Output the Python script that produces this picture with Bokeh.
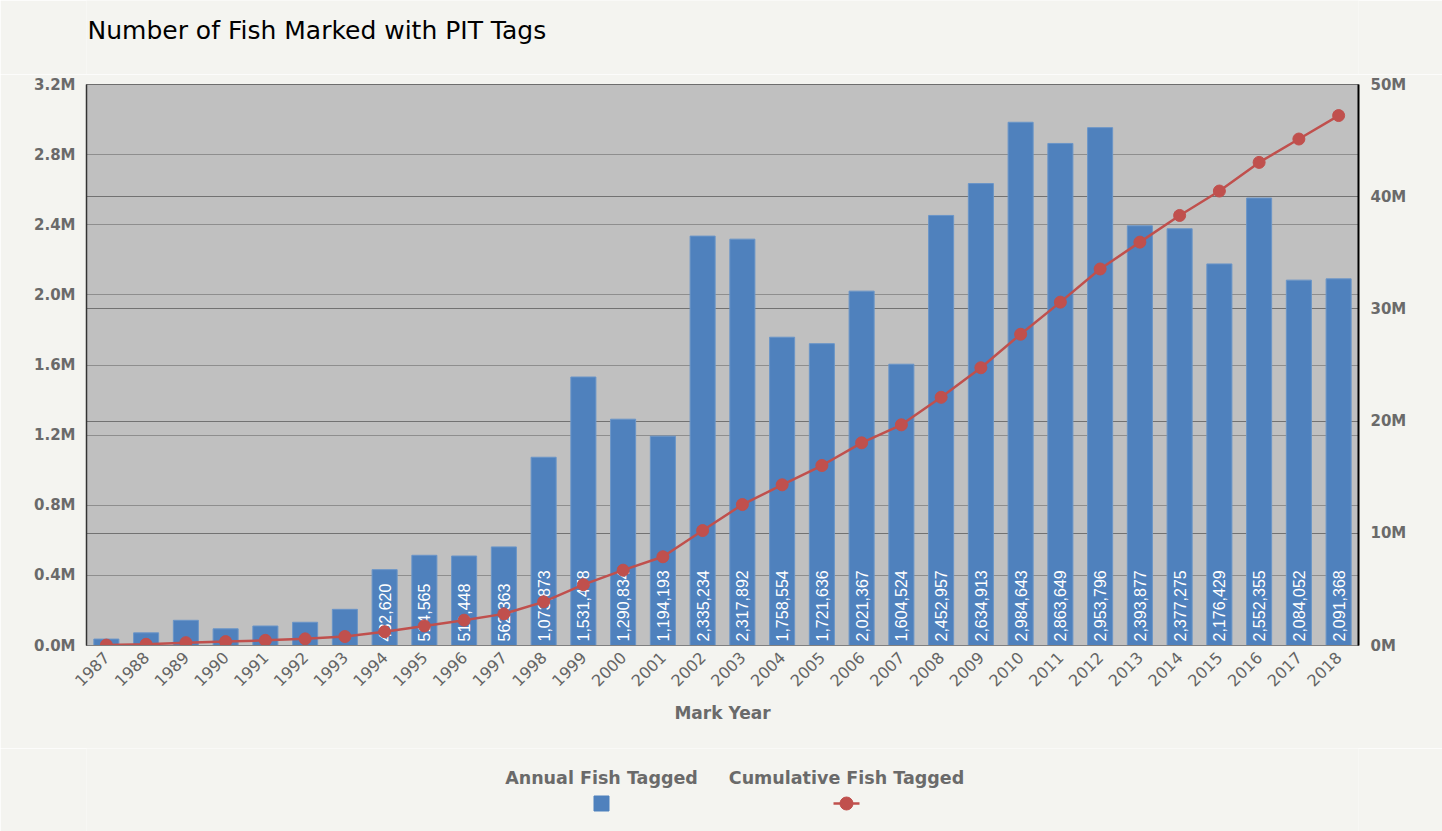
import math
from bokeh.plotting import figure
from bokeh.models import (Range1d, LinearAxis, FixedTicker, CustomJSTickFormatter,
                          Grid, Label, ColumnDataSource)
from bokeh.layouts import column
from bokeh.embed import file_html
from bokeh.resources import INLINE
from bokeh.core.properties import value

# ---------------- data ----------------
years = list(range(1987, 2019))
annual = [36550, 72150, 143650, 95150, 111150, 132450, 206250,
          432620, 514565, 510448, 562363, 1073873, 1531478, 1290834, 1194193,
          2335234, 2317892, 1758554, 1721636, 2021367, 1604524, 2452957,
          2634913, 2984643, 2863649, 2953796, 2393877, 2377275, 2176429,
          2552355, 2084052, 2091368]
cumulative = [36550, 108700, 252350, 347500, 458650, 591100, 797350,
              1229970, 1744535, 2254983, 2817346, 3891219, 5422697, 6713531,
              7907724, 10242958, 12560850, 14319404, 16041040, 18062407,
              19666931, 22119888, 24754801, 27739444, 30603093, 33556889,
              35950766, 38328041, 40504470, 43056825, 45140877, 47232245]
left_ticks = [0, 400000, 800000, 1200000, 1600000, 2000000, 2400000, 2800000, 3200000]
right_ticks = [0, 10000000, 20000000, 30000000, 40000000, 50000000]
title_text = "Number of Fish Marked with PIT Tags"
x_title = "Mark Year"
series_names = ["Annual Fish Tagged", "Cumulative Fish Tagged"]

BAR = "#4f81bd"
LINE = "#c0504d"
BG = "#f4f4f0"
PLOT_BG = "#c0c0c0"
FONT = "DejaVu Sans"

labels = [f"{v:,}" for v in annual]
src = ColumnDataSource(dict(year=years, annual=annual, cum=cumulative, label=labels))
big = [i for i, v in enumerate(annual) if v >= 400000]
src_big = ColumnDataSource(dict(year=[years[i] for i in big],
                                base=[0] * len(big),
                                label=[labels[i] for i in big]))


def strip(height):
    # a plain strip whose frame lines up with the main frame (x 86..1358 on the page)
    s = figure(width=1442, height=height, x_range=Range1d(86, 1358), y_range=Range1d(0, height),
               min_border=0, output_backend="svg", toolbar_location=None,
               x_axis_location=None, y_axis_location=None,
               background_fill_color=BG, border_fill_color=BG)
    s.outline_line_color = None
    s.grid.visible = False
    return s


# ---------------- title strip ----------------
tp = strip(74)
tp.text(x=[87], y=[44], text=[title_text], text_align="left", text_baseline="middle",
        text_font=value(FONT), text_font_size="25px", text_color="#000000")

# ---------------- main chart ----------------
p = figure(frame_width=1272, frame_height=561,
           min_border_left=86, min_border_right=84, min_border_top=10, min_border_bottom=103,
           x_range=Range1d(years[0] - 0.5, years[-1] + 0.5),
           y_range=Range1d(0, 3200000),
           output_backend="svg", toolbar_location=None,
           background_fill_color=PLOT_BG, border_fill_color=BG)
p.extra_y_ranges = {"right": Range1d(0, 50000000)}

p.outline_line_color = "#6e6e6e"
p.outline_line_width = 1

# grids
p.xgrid.visible = False
p.ygrid.ticker = FixedTicker(ticks=left_ticks)
p.ygrid.grid_line_color = "#8e8e8e"
p.ygrid.grid_line_width = 1

# axes
p.xaxis.ticker = FixedTicker(ticks=years)
p.xaxis.formatter = CustomJSTickFormatter(code="return String(tick);")
p.xaxis.major_label_orientation = math.pi / 4
p.xaxis.major_label_text_font = FONT
p.xaxis.major_label_text_font_size = "16px"
p.xaxis.major_label_text_color = "#646464"
p.xaxis.major_label_standoff = 3
p.xaxis.axis_label = x_title
p.xaxis.axis_label_text_font = FONT
p.xaxis.axis_label_text_font_size = "17px"
p.xaxis.axis_label_text_font_style = "bold"
p.xaxis.axis_label_text_color = "#6a6a6a"
p.xaxis.axis_label_standoff = 8
p.xaxis.axis_line_color = "#808080"
p.xaxis.major_tick_line_color = None
p.xaxis.minor_tick_line_color = None

p.yaxis.ticker = FixedTicker(ticks=left_ticks)
p.yaxis.formatter = CustomJSTickFormatter(code="return (tick/1e6).toFixed(1) + 'M';")
p.yaxis.major_label_text_font = FONT
p.yaxis.major_label_text_font_size = "15px"
p.yaxis.major_label_text_font_style = "bold"
p.yaxis.major_label_text_color = "#6a6a6a"
p.yaxis.major_label_standoff = 5
p.yaxis.axis_line_color = "#333333"
p.yaxis.axis_line_width = 1.5
p.yaxis.major_tick_line_color = None
p.yaxis.minor_tick_line_color = None

raxis = LinearAxis(y_range_name="right", ticker=FixedTicker(ticks=right_ticks),
                   formatter=CustomJSTickFormatter(code="return (tick/1e6).toFixed(0) + 'M';"))
raxis.major_label_text_font = FONT
raxis.major_label_text_font_size = "15px"
raxis.major_label_text_font_style = "bold"
raxis.major_label_text_color = "#6a6a6a"
raxis.major_label_standoff = 6
raxis.axis_line_color = "#000000"
raxis.axis_line_width = 2
raxis.major_tick_line_color = None
raxis.minor_tick_line_color = None
p.add_layout(raxis, "right")

rgrid = Grid(dimension=1, ticker=FixedTicker(ticks=right_ticks), y_range_name="right",
             grid_line_color="#727272", grid_line_width=1.2)
p.add_layout(rgrid)

# bars
p.vbar(x="year", top="annual", width=0.63, source=src,
       fill_color=BAR, line_color="#6a95c8", line_width=1)

# bar labels inside bars
p.text(x="year", y="base", text="label", source=src_big, angle=math.pi / 2,
       text_align="left", text_baseline="middle", y_offset=-4,
       text_color="white", text_font=value("Liberation Sans"), text_font_size="16px")

# labels of the small bars, drawn below the axis
for i, v in enumerate(annual):
    if v < 400000:
        p.add_layout(Label(x=years[i], y=0, text=labels[i], angle=math.pi / 2,
                           text_align="left", text_baseline="middle", y_offset=-63,
                           text_color="white", text_font="Liberation Sans",
                           text_font_size="16px"))

# cumulative line
p.line(x="year", y="cum", source=src, y_range_name="right",
       line_color=LINE, line_width=2.5)
p.scatter(x="year", y="cum", source=src, y_range_name="right",
          marker="circle", size=12, fill_color=LINE, line_color=LINE)

# ---------------- legend strip ----------------
lg = strip(83)
lg.text(x=[601, 846], y=[54, 54], text=series_names, text_align="center",
        text_baseline="middle", text_font=value(FONT), text_font_size="17.5px",
        text_font_style="bold", text_color="#6a6a6a")
lg.scatter(x=[601], y=[28], marker="square", size=15, fill_color=BAR, line_color=BAR)
lg.line(x=[833, 859], y=[28, 28], line_color=LINE, line_width=2.5)
lg.scatter(x=[846], y=[28], marker="circle", size=13, fill_color=LINE, line_color=LINE)

layout = column(tp, p, lg, spacing=0)
open("out.html", "w").write(file_html(layout, INLINE))
